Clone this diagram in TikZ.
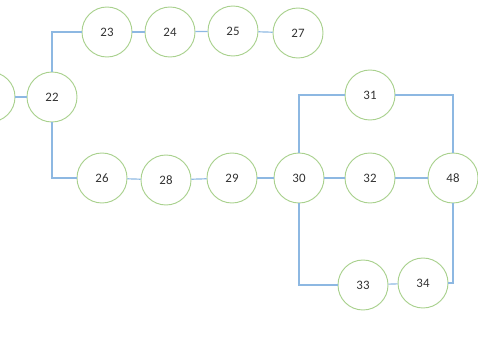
\documentclass[tikz,border=0pt]{standalone}
\usepackage{fontspec}
\setmainfont{Carlito}
\usetikzlibrary{positioning}
\definecolor{ringgreen}{HTML}{A9D18E}
\definecolor{linkblue}{HTML}{8DB8E2}
\definecolor{numgray}{HTML}{333333}
\tikzset{
    task/.style={circle, draw=ringgreen, line width=0.8pt, minimum size=1.5cm, inner sep=0pt,
        text=numgray, font=\fontsize{11}{13}\selectfont},
    link/.style={draw=linkblue, line width=1pt}
}
\begin{document}
\begin{tikzpicture}[x=0.03cm, y=-0.03cm]
\useasboundingbox (0,0) rectangle (478,338);

% upper branch
\node[task] (n21) at (-10,97) {};
\node[task] (n22) at (52,97) {22};
\node[task] (n23) at (107,32) {23};
\node[task] (n24) at (170,32) {24};
\node[task] (n25) at (233,31) {25};
\node[task] (n27) at (298,33) {27};

% lower branch
\node[task] (n26) at (102,178) {26};
\node[task] (n28) at (166,180) {28};
\node[task] (n29) at (232,178) {29};
\node[task] (n30) at (299,178) {30};

\node[task] (n31) at (370,95) {31};
\node[task] (n32) at (370,178) {32};
\node[task] (n48) at (453,178) {48};
\node[task] (n33) at (363,285) {33};
\node[task] (n34) at (423,283) {34};

\draw[link] (n21) -- (n22);
\draw[link] (n22) |- (n23);
\draw[link] (n23) -- (n24);
\draw[link] (n24) -- (n25);
\draw[link] (n25) -- (n27);

\draw[link] (n22) |- (n26);
\draw[link] (n26) -- (n28);
\draw[link] (n28) -- (n29);
\draw[link] (n29) -- (n30);

\draw[link] (n30) |- (n31);
\draw[link] (n31) -| (n48);
\draw[link] (n30) -- (n32);
\draw[link] (n32) -- (n48);
\draw[link] (n30) |- (n33);
\draw[link] (n33) -- (n34);
\draw[link] (n34) -| (n48);
\end{tikzpicture}
\end{document}
